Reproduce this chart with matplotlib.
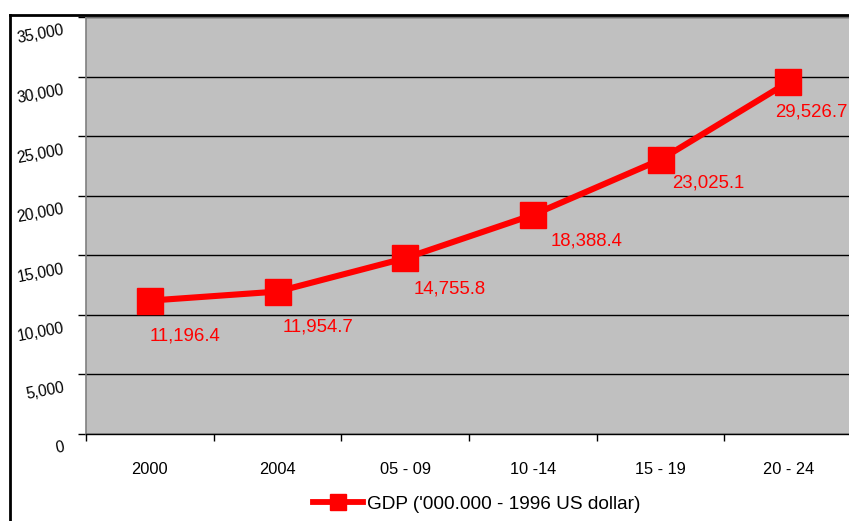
import matplotlib
matplotlib.use("Agg")
import matplotlib.pyplot as plt
from matplotlib.lines import Line2D
from matplotlib.transforms import blended_transform_factory

plt.rcParams["font.family"] = ["Liberation Sans", "DejaVu Sans"]

periods = ["2000", "2004", "05 - 09", "10 -14", "15 - 19", "20 - 24"]
gdp = [11196.4, 11954.7, 14755.8, 18388.4, 23025.1, 29526.7]
y_ticks = [0, 5000, 10000, 15000, 20000, 25000, 30000, 35000]
series_label = "GDP ('000.000 - 1996 US dollar)"

RED = "#FF0000"
# per-point label nudges (points), labels sit below-right of markers
label_dx = [25.6, 28.8, 32.4, 38.9, 34.2, 16.6]
label_dy = [-25.6, -25.2, -22.3, -18.7, -16.6, -21.6]

fig = plt.figure(figsize=(8.49, 5.21), dpi=100)
ax = fig.add_axes([86 / 849, 87 / 521, 766 / 849, 417 / 521])
ax.set_facecolor("#C0C0C0")

x = list(range(len(periods)))
ax.plot(x, gdp, color=RED, lw=4.4, marker="s", ms=19.4, mfc=RED, mec=RED,
        zorder=3, clip_on=False)

for i, v in enumerate(gdp):
    ax.annotate(f"{v:,.1f}", (i, v), xytext=(label_dx[i], label_dy[i]),
                textcoords="offset points", ha="center", va="center",
                color=RED, fontsize=13.4, zorder=4)

ax.set_xlim(-0.5, len(periods) - 0.5)
ax.set_ylim(0, 35000)

# category boundaries carry the tick marks, centres carry the labels
ax.set_xticks([i - 0.5 for i in range(len(periods) + 1)])
ax.set_xticklabels([])
ax.set_xticks(x, minor=True)
ax.set_xticklabels(periods, minor=True, fontsize=11.8)
ax.tick_params(axis="x", which="major", direction="out", length=4.7, width=1, color="black")
ax.tick_params(axis="x", which="minor", length=0, pad=20)

ax.set_yticks(y_ticks)
ax.set_yticklabels([])
ax.tick_params(axis="y", direction="out", length=5.8, width=1, color="black")
ax.yaxis.grid(True, color="black", lw=1)
ax.set_axisbelow(True)

ytr = blended_transform_factory(ax.transAxes, ax.transData)
for t in y_ticks:
    ax.annotate(f"{t:,}", (0, t), xycoords=ytr, xytext=(-16, -9.7),
                textcoords="offset points", ha="right", va="center",
                rotation=10.5, rotation_mode="anchor", fontsize=11.2,
                annotation_clip=False)

for side in ["top", "right", "left"]:
    ax.spines[side].set_color("#808080")
    ax.spines[side].set_linewidth(1.2)
ax.spines["bottom"].set_color("black")
ax.spines["bottom"].set_linewidth(1)

handle = Line2D([], [], color=RED, lw=4.2, marker="s", ms=11.5, mfc=RED, mec=RED)
ax.legend([handle], [series_label], loc="center", bbox_to_anchor=(0.51, -0.168),
          frameon=False, fontsize=13.7, handlelength=2.65, handletextpad=0.2)

# outer chart frame (left and top edges visible)
fig.add_artist(Line2D([9.5 / 849, 9.5 / 849], [0, 1 - 15 / 521], color="black",
                      lw=2, transform=fig.transFigure))
fig.add_artist(Line2D([9.5 / 849, 1], [1 - 15 / 521, 1 - 15 / 521], color="black",
                      lw=2, transform=fig.transFigure))

fig.savefig("out.png", dpi=100)
